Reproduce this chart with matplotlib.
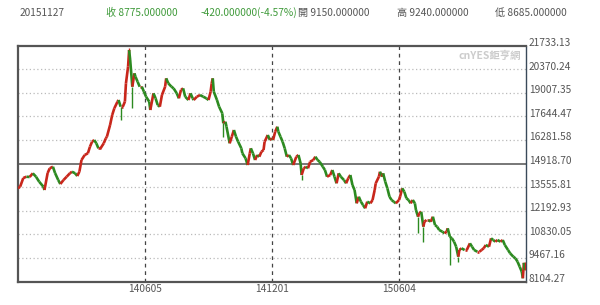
import matplotlib
matplotlib.use("Agg")
import matplotlib.pyplot as plt
import matplotlib.transforms as mtransforms
from matplotlib.collections import LineCollection

plt.rcParams['font.family'] = ['Noto Sans CJK TC', 'DejaVu Sans']

# trading-day index and closing value
days = [0, 2, 5, 8, 11, 14, 17, 20, 24, 25, 28, 30, 33, 35, 38, 40, 43, 46, 49, 51,
        54, 56, 58, 60, 63, 66, 68, 70, 72, 74, 76, 78, 81, 83, 84, 87, 89, 91, 94, 95,
        97, 99, 101, 102, 104, 105, 106, 108, 110, 111, 113, 115, 117, 119, 121, 124, 125, 128, 130, 132,
        134, 136, 139, 140, 142, 145, 147, 150, 152, 154, 156, 158, 161, 163, 165, 166, 169, 172, 175, 178,
        180, 182, 183, 184, 185, 188, 190, 193, 194, 196, 197, 200, 202, 204, 206, 208, 211, 212, 215, 217,
        219, 220, 222, 224, 226, 228, 230, 232, 233, 236, 238, 240, 241, 243, 245, 246, 248, 250, 252, 254,
        256, 258, 260, 263, 265, 267, 268, 270, 272, 274, 276, 279, 281, 283, 285, 288, 290, 292, 295, 297,
        299, 301, 303, 305, 308, 310, 312, 314, 316, 318, 320, 322, 324, 326, 328, 330, 333, 335, 337, 338,
        341, 342, 344, 345, 347, 349, 351, 353, 355, 357, 360, 361, 363, 365, 367, 369, 371, 373, 375, 376,
        378, 379, 381, 383, 384, 386, 388, 390, 392, 394, 396, 398, 401, 403, 405, 406, 408, 410, 412, 414,
        416, 417, 419, 422, 424, 427, 429, 431, 434, 436, 438, 440, 442, 445, 447, 449, 451, 453, 456, 458,
        460, 463, 465, 468, 470, 472, 474, 476, 477, 478, 479]
closes = [13495, 13587, 14090, 14165, 14147, 14361, 14165, 13876, 13587, 13397, 14378, 14650, 14742, 14378, 13974, 13743, 13974, 14165, 14361, 14453,
          14361, 14205, 14453, 15129, 15417, 15515, 15896, 16185, 16283, 16092, 15804, 15804, 16092, 16381, 16473, 17149, 17726, 18113, 18494, 18592,
          18205, 18205, 18494, 19556, 20514, 21478, 20901, 19359, 20133, 19937, 19648, 19359, 19359, 19071, 18782, 18494, 18015, 18978, 18690, 18303,
          18205, 18880, 19359, 19844, 19556, 19359, 19267, 18978, 18690, 19169, 19267, 18782, 18592, 18978, 18690, 18592, 18782, 18880, 18782, 18690,
          18592, 19071, 19556, 19844, 19071, 18592, 18205, 17824, 17247, 17339, 17051, 16092, 16473, 16860, 16473, 16185, 15804, 15515, 15227, 14840,
          15515, 15804, 15515, 15129, 15417, 15319, 15608, 15706, 16185, 16571, 16283, 16381, 16283, 16762, 17051, 16762, 16473, 16185, 15804, 15319,
          15417, 15227, 14840, 15319, 15417, 14938, 14263, 14650, 14742, 14650, 15030, 15129, 15319, 15129, 15030, 14742, 14551, 14165, 14263, 14551,
          14165, 13784, 14361, 14165, 13974, 13784, 14072, 14263, 13686, 13397, 12629, 13010, 12722, 12531, 12341, 12722, 12629, 12820, 13397, 13784,
          14165, 14453, 14165, 14361, 13876, 13495, 13010, 12820, 12722, 12629, 12820, 13010, 13495, 13299, 12918, 12820, 12629, 12820, 12629, 12243,
          11856, 12052, 12144, 11279, 11567, 11665, 11665, 11567, 11856, 11377, 11279, 11088, 10990, 10898, 10990, 11186, 10701, 10609, 10413, 10124,
          9547, 9934, 10032, 9934, 9934, 10320, 10124, 9934, 9836, 9836, 9934, 10032, 10222, 10124, 10609, 10511, 10413, 10511, 10413, 10511,
          10222, 9934, 9743, 9547, 9455, 9258, 8970, 8681, 8300, 9195, 8775]

# long lower / upper shadows
spike_days = [97, 105, 108, 194, 268, 378, 383, 408, 416, 479]
spike_vals = [17437, 21576, 18130, 16473, 13974, 10915, 10413, 9068, 9258, 9240]

y_ticks = [8104.27, 9467.16, 10830.05, 12192.93, 13555.81, 14918.70,
           16281.58, 17644.47, 19007.35, 20370.24, 21733.13]
x_tick_days = [120, 240, 360]
x_tick_labels = ['140605', '141201', '150604']

header_date = '20151127'
close_txt = '收 8775.000000'
change_txt = '-420.000000(-4.57%)'
open_txt = '開 9150.000000'
high_txt = '高 9240.000000'
low_txt = '低 8685.000000'

RED = '#c8261b'
GREEN = '#2c8a20'
GRAY = '#555555'

fig = plt.figure(figsize=(6.0, 3.05), dpi=100)
ax = fig.add_axes([0.03, 0.0764, 0.8467, 0.7741])

segs, cols = [], []
for i in range(1, len(days)):
    segs.append([(days[i - 1], closes[i - 1]), (days[i], closes[i])])
    cols.append(RED if closes[i] >= closes[i - 1] else GREEN)
ax.add_collection(LineCollection(segs, colors=cols, linewidths=1.9, zorder=3,
                                 capstyle='butt'))

for d, v in zip(spike_days, spike_vals):
    c = closes[days.index(d)]
    col = RED if v > c else GREEN
    ax.vlines(d, min(v, c), max(v, c), color=col, lw=1.0, zorder=3)

ax.set_xlim(0, 480)
ax.set_ylim(y_ticks[0], y_ticks[-1])

# grid
for i, yv in enumerate(y_ticks[1:-1], start=1):
    if i == 5:
        ax.axhline(yv, color='#777777', lw=1.4, zorder=1)
    else:
        ax.axhline(yv, color='#bbbbbb', lw=0.9, ls=(0, (1, 2)), zorder=1)
for d in x_tick_days:
    ax.axvline(d, color='#444444', lw=0.9, ls=(0, (3, 3)), zorder=1)

for s in ['top', 'left', 'bottom']:
    ax.spines[s].set_color('#555555')
    ax.spines[s].set_linewidth(1.6)
ax.spines['right'].set_color('#3a4a5a')
ax.spines['right'].set_linewidth(1.0)

ax.yaxis.tick_right()
ax.set_yticks(y_ticks)
ax.set_yticklabels(['%.2f' % v for v in y_ticks])
ax.tick_params(axis='y', length=0, pad=2, labelsize=7.3, labelcolor=GRAY)
shift = mtransforms.ScaledTranslation(0, 3.6 / 100, fig.dpi_scale_trans)
for lab in ax.get_yticklabels():
    lab.set_transform(lab.get_transform() + shift)

ax.set_xticks(x_tick_days)
ax.set_xticklabels(x_tick_labels)
ax.tick_params(axis='x', length=0, pad=2, labelsize=7.3, labelcolor=GRAY)

# watermark
ax.text(0.99, 0.955, 'cnYES鉅亨網', transform=ax.transAxes, ha='right', va='center',
        fontsize=7.5, color='#cccccc', fontweight='bold', zorder=0)

# header line
def px(x, y):
    return x / 600, 1 - y / 305

fig.text(*px(20, 13), header_date, fontsize=7.3, color=GRAY, va='center')
fig.text(*px(106, 13), close_txt, fontsize=7.3, color='#3f9a3a', va='center')
fig.text(*px(201, 13), change_txt, fontsize=7.3, color='#3f9a3a', va='center')
fig.text(*px(298, 13), open_txt, fontsize=7.3, color=GRAY, va='center',
         bbox=dict(facecolor='white', edgecolor='none', pad=0.5))
fig.text(*px(397, 13), high_txt, fontsize=7.3, color=GRAY, va='center')
fig.text(*px(495, 13), low_txt, fontsize=7.3, color=GRAY, va='center')

fig.savefig('out.png', dpi=100)
